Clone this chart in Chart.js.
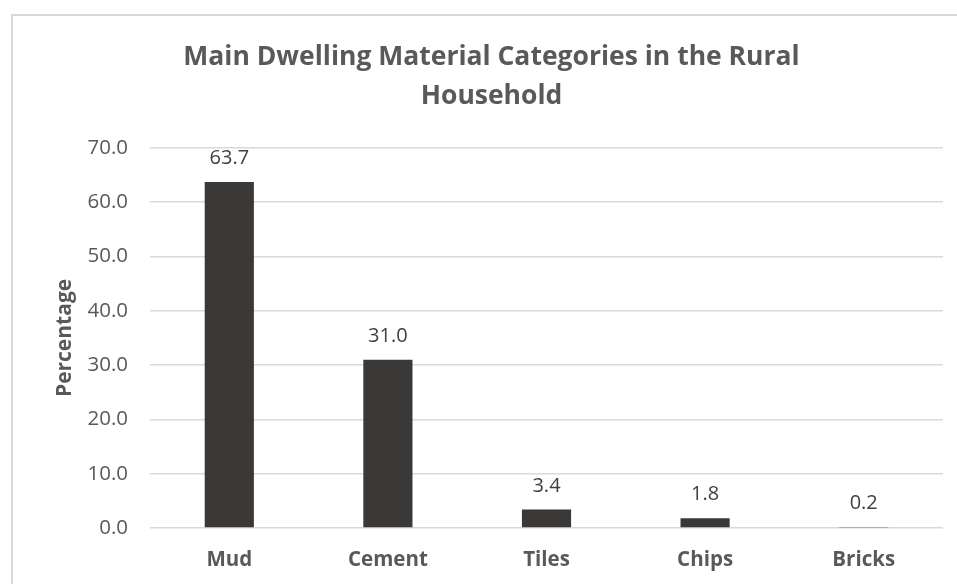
<!DOCTYPE html>
<html>
<head>
<meta charset="utf-8">
<script src="https://cdn.jsdelivr.net/npm/chart.js@4"></script>
<style>
  html, body { margin: 0; padding: 0; background: #fff; }
  #wrap { position: relative; width: 957px; height: 584px; }
</style>
</head>
<body>
<div id="wrap"><canvas id="c" width="957" height="584"></canvas></div>
<script>
const categories = ["Mud", "Cement", "Tiles", "Chips", "Bricks"];
const percentages = [63.7, 31.0, 3.4, 1.8, 0.2];
const titleLines = ["Main Dwelling Material Categories in the Rural", "Household"];
const yAxisTitle = "Percentage";
const yMin = 0, yMax = 70, yStep = 10;

const FONT = "'Open Sans', 'Noto Sans', sans-serif";

const borderPlugin = {
  id: 'frame',
  beforeDraw(chart) {
    const ctx = chart.ctx;
    ctx.save();
    ctx.fillStyle = '#ffffff';
    ctx.fillRect(0, 0, chart.width, chart.height);
    ctx.strokeStyle = '#d9d9d9';
    ctx.lineWidth = 2;
    ctx.strokeRect(12, 15, 1100, 1100);
    ctx.restore();
  }
};

const labelPlugin = {
  id: 'valueLabels',
  afterDatasetsDraw(chart) {
    const ctx = chart.ctx;
    const meta = chart.getDatasetMeta(0);
    ctx.save();
    ctx.font = "20px " + FONT;
    ctx.fillStyle = '#404040';
    ctx.textAlign = 'center';
    ctx.textBaseline = 'alphabetic';
    meta.data.forEach((bar, i) => {
      ctx.fillText(percentages[i].toFixed(1), bar.x, bar.y - 18);
    });
    ctx.restore();
  }
};

new Chart(document.getElementById('c'), {
  type: 'bar',
  data: {
    labels: categories,
    datasets: [{
      data: percentages,
      backgroundColor: '#3a3938',
      borderWidth: 0,
      categoryPercentage: 1.0,
      barPercentage: 0.31
    }]
  },
  options: {
    responsive: false,
    animation: false,
    devicePixelRatio: 1,
    layout: { padding: { left: 40, right: 14, top: 0, bottom: 0 } },
    plugins: {
      legend: { display: false },
      tooltip: { enabled: false },
      title: {
        display: true,
        text: titleLines,
        color: '#595959',
        font: { family: FONT, size: 26.5, weight: 'bold', lineHeight: 1.47 },
        padding: { top: 38, bottom: 32 }
      }
    },
    scales: {
      x: {
        grid: { display: false, drawTicks: false },
        border: { display: false },
        ticks: {
          color: '#595959',
          font: { family: FONT, size: 20.5, weight: 'bold' },
          padding: 20
        },
        afterFit(scale) { scale.height = 56; }
      },
      y: {
        min: yMin,
        max: yMax,
        grid: { color: '#d9d9d9', lineWidth: 1.5, drawTicks: false },
        border: { display: false },
        ticks: {
          stepSize: yStep,
          color: '#595959',
          font: { family: FONT, size: 20.5 },
          padding: 22,
          callback: (v) => Number(v).toFixed(1)
        },
        title: {
          display: true,
          text: yAxisTitle,
          color: '#595959',
          font: { family: FONT, size: 21, weight: 'bold' },
          padding: { top: 12, bottom: 0 }
        },
        afterFit(scale) { scale.width = 110; }
      }
    }
  },
  plugins: [borderPlugin, labelPlugin]
});
</script>
</body>
</html>
